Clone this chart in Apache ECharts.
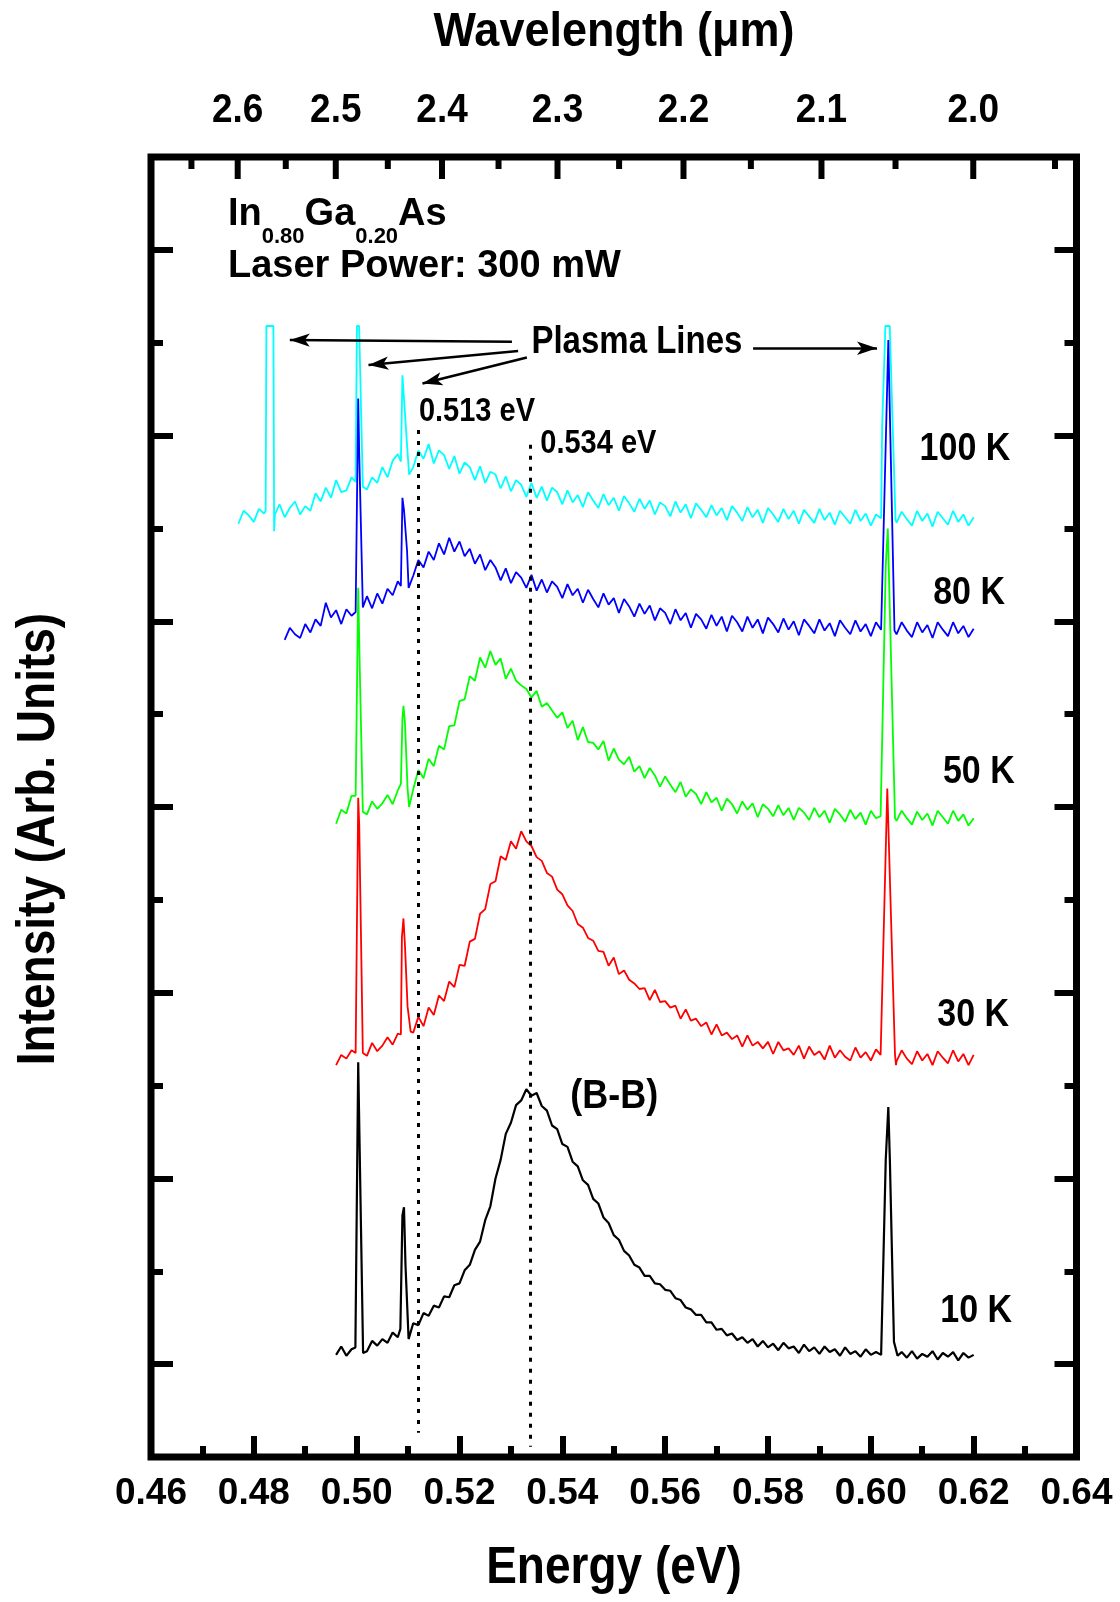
<!DOCTYPE html>
<html>
<head>
<meta charset="utf-8">
<script src="https://cdn.jsdelivr.net/npm/echarts@6/dist/echarts.min.js"></script>
<style>
html,body{margin:0;padding:0;background:#fff;}
#chart{width:1120px;height:1602px;}
</style>
</head>
<body>
<div id="chart"></div>
<script>
// ---------------- DATA ----------------
const HC = 1.23984; // eV·µm, wavelength = HC / energy
const energyMin = 0.46, energyMax = 0.64, energyStep = 0.02;
const intensityMin = 0, intensityMax = 14, intensityStep = 2;
const wavelengthMajor = [2.6, 2.5, 2.4, 2.3, 2.2, 2.1, 2.0];
const wavelengthMinor = [2.65, 2.55, 2.45, 2.35, 2.25, 2.15, 2.05, 1.95];

const gridStep = 0.001;   // sampling step of the spectra (eV)

// 100 K (cyan) from 0.477 eV
const start100K = 0.477;
const int100K = [
  10.05, 10.19, 10.14,
  10.07, 10.21, 10.16, null, null, 10.26, 10.12, 10.22, 10.29, 10.15,
  10.24, 10.19, 10.38, 10.29, 10.44, 10.33, 10.52, 10.39, 10.41, 10.55,
  null, null, 10.42, 10.55, 10.49, 10.66, 10.55, 10.73, 10.80, null,
  null, 10.66, 10.84, 10.75, 10.91, 10.70, 10.84, 10.79, 10.64, 10.78,
  10.59, 10.71, 10.66, 10.52, 10.67, 10.49, 10.61, 10.58, 10.43, 10.56,
  10.40, 10.52, 10.47, 10.34, 10.49, 10.33, 10.45, 10.30, 10.44, 10.39,
  10.26, 10.41, 10.28, 10.36, 10.23, 10.39, 10.30, 10.22, 10.37, 10.25,
  10.33, 10.19, 10.35, 10.27, 10.18, 10.32, 10.21, 10.30, 10.15, 10.28,
  10.24, 10.13, 10.29, 10.17, 10.26, 10.11, 10.27, 10.20, 10.12, 10.25,
  10.14, 10.22, 10.09, 10.24, 10.17, 10.08, 10.23, 10.12, 10.20, 10.06,
  10.22, 10.15, 10.07, 10.21, 10.10, 10.19, 10.05, 10.20, 10.13, 10.06,
  10.21, 10.09, 10.17, 10.04, 10.19, 10.12, 10.05, 10.20, 10.08, 10.16,
  10.03, 10.15, null, null, null, 10.06, 10.18, 10.10, 10.03, 10.19,
  10.08, 10.16, 10.02, 10.18, 10.11, 10.04, 10.19, 10.07, 10.15, 10.03, 10.12
];
const peaks100K = [
  [0.4823, 10.19], [0.48244, 12.18], [0.48381, 12.18], [0.48395, 9.97], [0.4841, 10.15],
  [0.4998, 10.50], [0.50005, 12.18], [0.50048, 12.18], [0.5012, 10.45],
  [0.5086, 10.72], [0.5089, 11.65], [0.5092, 11.40], [0.5098, 10.90], [0.5102, 10.58],
  [0.6020, 10.11], [0.6022, 11.10], [0.60283, 12.18], [0.60368, 12.18], [0.6042, 11.20], [0.6048, 10.10]
];

// 80 K (blue) from 0.486 eV
const start80K = 0.486;
const int80K = [
  8.80, 8.93, 8.86, 8.82,
  8.97, 8.88, 9.02, 8.95, 9.20, 9.04, 9.12, 8.97, 9.13, 9.06,
  null, null, 9.27, 9.14, 9.30, 9.19, 9.35, 9.28, 9.43, null,
  null, 9.49, 9.66, 9.58, 9.75, 9.66, 9.84, 9.72, 9.90, 9.75,
  9.86, 9.70, 9.78, 9.62, 9.72, 9.55, 9.66, 9.58, 9.44, 9.57,
  9.41, 9.53, 9.47, 9.36, 9.50, 9.33, 9.45, 9.31, 9.43, 9.37,
  9.25, 9.40, 9.28, 9.35, 9.20, 9.34, 9.24, 9.15, 9.30, 9.18,
  9.25, 9.09, 9.24, 9.16, 9.05, 9.19, 9.08, 9.17, 9.01, 9.14,
  9.09, 8.97, 9.13, 9.01, 9.09, 8.93, 9.08, 9.02, 8.92, 9.07,
  8.95, 9.05, 8.89, 9.06, 8.99, 8.89, 9.05, 8.93, 9.02, 8.87,
  9.04, 8.97, 8.88, 9.03, 8.91, 9.00, 8.85, 9.02, 8.95, 8.87,
  9.02, 8.90, 8.98, 8.84, 9.01, 8.93, 8.86, 9.01, 8.89, 8.97,
  8.84, 8.99, 8.91, null, null, 8.86, 8.99, 8.90, 8.83, 8.99,
  8.88, 8.96, 8.82, 8.99, 8.91, 8.84, 8.99, 8.87, 8.95, 8.83, 8.92
];
const peaks80K = [
  [0.4998, 9.10], [0.5003, 11.40], [0.5005, 10.80], [0.5012, 9.15],
  [0.5086, 9.38], [0.5089, 10.33], [0.5092, 10.20], [0.5098, 9.76], [0.5101, 9.36],
  [0.6021, 8.92], [0.6034, 12.03], [0.6046, 8.90]
];

// 50 K (green) from 0.496 eV
const start50K = 0.496;
const int50K = [
  6.82, 6.97, 6.93, 7.12,
  null, null, 6.92, 7.06, 6.98, 7.04, 7.13, 7.03, 7.18, null,
  null, 7.19, 7.40, 7.31, 7.52, 7.44, 7.66, 7.62, 7.87, 7.88,
  8.14, 8.16, 8.41, 8.36, 8.61, 8.50, 8.68, 8.53, 8.60, 8.38,
  8.49, 8.36, 8.31, 8.27, 8.18, 8.25, 8.08, 8.12, 8.04, 7.96,
  8.02, 7.85, 7.93, 7.72, 7.86, 7.70, 7.69, 7.62, 7.71, 7.50,
  7.63, 7.51, 7.46, 7.54, 7.38, 7.44, 7.31, 7.42, 7.34, 7.22,
  7.33, 7.24, 7.16, 7.27, 7.11, 7.19, 7.14, 7.03, 7.16, 7.05,
  7.10, 6.96, 7.09, 7.03, 6.93, 7.06, 6.97, 7.04, 6.89, 7.03,
  6.98, 6.90, 7.02, 6.91, 6.99, 6.86, 6.99, 6.94, 6.86, 6.99,
  6.89, 6.96, 6.83, 6.98, 6.92, 6.84, 6.97, 6.87, 6.94, 6.81,
  6.96, 6.88, null, null, null, 6.85, 6.96, 6.88, 6.81, 6.95,
  6.86, 6.93, 6.80, 6.96, 6.89, 6.82, 6.96, 6.85, 6.92, 6.80, 6.88
];
const peaks50K = [
  [0.4998, 7.12], [0.5003, 9.36], [0.5006, 8.50], [0.5012, 6.95],
  [0.5086, 7.25], [0.5089, 7.95], [0.5091, 8.09], [0.5094, 7.90], [0.5099, 7.20], [0.5102, 7.00],
  [0.6019, 6.90], [0.6029, 9.60], [0.6033, 10.00], [0.6047, 6.88]
];

// 30 K (red) from 0.496 eV
const start30K = 0.496;
const int30K = [
  4.22, 4.33, 4.29, 4.38,
  null, null, 4.32, 4.46, 4.37, 4.43, 4.52, 4.44, 4.56, null,
  null, 4.57, 4.74, 4.64, 4.84, 4.76, 4.97, 4.91, 5.12, 5.06,
  5.30, 5.29, 5.55, 5.58, 5.85, 5.90, 6.17, 6.20, 6.47, 6.43,
  6.63, 6.55, 6.74, 6.63, 6.58, 6.46, 6.42, 6.29, 6.25, 6.11,
  6.06, 5.94, 5.88, 5.74, 5.70, 5.59, 5.56, 5.45, 5.44, 5.29,
  5.38, 5.20, 5.24, 5.14, 5.10, 5.04, 5.05, 4.92, 5.03, 4.90,
  4.91, 4.84, 4.86, 4.72, 4.82, 4.70, 4.72, 4.64, 4.68, 4.55,
  4.66, 4.54, 4.57, 4.50, 4.54, 4.42, 4.54, 4.43, 4.47, 4.40,
  4.47, 4.34, 4.47, 4.38, 4.40, 4.33, 4.43, 4.29, 4.42, 4.33,
  4.37, 4.28, 4.43, 4.30, 4.38, 4.31, 4.27, 4.41, 4.30, 4.36,
  4.27, 4.39, null, null, null, 4.26, 4.38, 4.29, 4.23, 4.37,
  4.27, 4.34, 4.22, 4.37, 4.30, 4.24, 4.38, 4.26, 4.34, 4.22, 4.33
];
const peaks30K = [
  [0.4998, 4.35], [0.5003, 7.10], [0.5005, 6.80], [0.5012, 4.35],
  [0.5086, 4.55], [0.5088, 5.60], [0.5091, 5.80], [0.5094, 5.50], [0.5099, 4.85], [0.5105, 4.58],
  [0.6019, 4.33], [0.6032, 7.20], [0.6047, 4.33], [0.6049, 4.22]
];

// 10 K (black) from 0.496 eV
const start10K = 0.496;
const int10K = [
  1.10, 1.19, 1.09, 1.16,
  null, null, 1.14, 1.25, 1.20, 1.27, 1.23, 1.34, 1.29, null,
  null, 1.44, 1.42, 1.55, 1.52, 1.63, 1.61, 1.73, 1.72, 1.85,
  1.87, 2.01, 2.07, 2.23, 2.32, 2.55, 2.70, 3.00, 3.20, 3.48,
  3.60, 3.79, 3.84, 3.96, 3.89, 3.92, 3.78, 3.73, 3.57, 3.53,
  3.37, 3.34, 3.18, 3.13, 2.98, 2.93, 2.78, 2.73, 2.58, 2.52,
  2.39, 2.34, 2.22, 2.17, 2.07, 2.04, 1.95, 1.95, 1.87, 1.86,
  1.80, 1.79, 1.71, 1.69, 1.61, 1.59, 1.53, 1.53, 1.45, 1.45,
  1.37, 1.38, 1.31, 1.33, 1.26, 1.29, 1.23, 1.27, 1.19, 1.25,
  1.18, 1.22, 1.15, 1.23, 1.17, 1.19, 1.12, 1.21, 1.14, 1.18,
  1.11, 1.19, 1.13, 1.16, 1.09, 1.18, 1.11, 1.14, 1.08, 1.16,
  1.10, 1.13, 1.10, null, null, null, 1.13, 1.07, 1.14, 1.06,
  1.11, 1.08, 1.14, 1.05, 1.12, 1.08, 1.13, 1.04, 1.12, 1.07, 1.10
];
const peaks10K = [
  [0.49975, 1.18], [0.5003, 4.25], [0.50045, 3.75], [0.50125, 1.12],
  [0.5085, 1.38], [0.5089, 2.60], [0.5092, 2.69], [0.5095, 2.06], [0.5101, 1.27],
  [0.6021, 1.11], [0.6029, 3.20], [0.6034, 3.77], [0.6037, 3.20], [0.6045, 1.24], [0.6052, 1.09]
];

// dotted reference lines (drawn position, top, bottom)
const refLineE = [0.5119, 0.5337];
const refLineTop = [11.06, 10.90];
const refLineBottom = [0.26, 0.11];

// annotation texts
const noteText = ['Plasma Lines', '0.513 eV', '0.534 eV', '100 K', '80 K', '50 K', '30 K', '10 K', '(B-B)'];
const noteE    = [0.5545, 0.5234, 0.5470, 0.6183, 0.6191, 0.6210, 0.6199, 0.6205, 0.5501];
const noteI    = [11.997, 11.259, 10.914, 10.855, 9.304, 7.377, 4.760, 1.572, 3.877];
const noteSize = [33, 29, 29, 34, 34, 34, 34, 34, 36];

// arrows from "Plasma Lines" (tail -> head)
const arrowTail = [[0.5302, 12.01], [0.5314, 11.91], [0.5331, 11.84], [0.5771, 11.94]];
const arrowHead = [[0.4870, 12.03], [0.5023, 11.76], [0.5128, 11.56], [0.6012, 11.94]];

// ---------------- BUILD ----------------
const FONT = '"Liberation Sans", Arial, Helvetica, sans-serif';
function buildSpectrum(start, values, peaks) {
  const pts = [];
  values.forEach((v, i) => {
    if (v !== null) pts.push([+(start + i * gridStep).toFixed(4), v]);
  });
  peaks.forEach(p => pts.push(p));
  pts.sort((a, b) => a[0] - b[0]);
  return pts;
}
function spectrumSeries(name, color, width, data, extra) {
  return Object.assign({
    name: name, type: 'line', data: data, showSymbol: false, symbol: 'none',
    lineStyle: { color: color, width: width }, itemStyle: { color: color },
    silent: true, animation: false, z: 3
  }, extra || {});
}
function textStyle(text, font, align, vAlign) {
  return { text: text, font: font, fill: '#000',
    align: align, verticalAlign: vAlign, textAlign: align, textVerticalAlign: vAlign };
}

const chart = echarts.init(document.getElementById('chart'), null, { renderer: 'canvas' });

const wlTicks = wavelengthMajor.map(w => [w, 1]).concat(wavelengthMinor.map(w => [w, 0]));

const option = {
  backgroundColor: '#fff',
  animation: false,
  grid: {
    left: 151, right: 43.5, top: 157, bottom: 145,
    show: true, borderColor: '#000', borderWidth: 7, backgroundColor: 'transparent',
    containLabel: false, outerBoundsMode: 'none'
  },
  xAxis: {
    type: 'value', min: energyMin, max: energyMax, interval: energyStep,
    axisLine: { show: false },
    splitLine: { show: false },
    axisTick: { show: true, inside: true, length: 21, lineStyle: { color: '#000', width: 6 } },
    minorTick: { show: true, splitNumber: 2, length: 11, lineStyle: { color: '#000', width: 6 } },
    minorSplitLine: { show: false },
    axisLabel: {
      show: true, margin: 18, color: '#000', fontSize: 37, fontWeight: 'bold', fontFamily: FONT,
      formatter: v => v.toFixed(2)
    }
  },
  yAxis: [
    {
      type: 'value', position: 'left', min: intensityMin, max: intensityMax, interval: intensityStep,
      axisLine: { show: false }, splitLine: { show: false }, axisLabel: { show: false },
      axisTick: { show: true, inside: true, length: 12, lineStyle: { color: '#000', width: 6 } },
      minorTick: { show: true, splitNumber: 2, length: 22, lineStyle: { color: '#000', width: 6 } },
      minorSplitLine: { show: false }
    },
    {
      type: 'value', position: 'right', min: intensityMin, max: intensityMax, interval: intensityStep,
      axisLine: { show: false }, splitLine: { show: false }, axisLabel: { show: false },
      axisTick: { show: true, inside: true, length: 12, lineStyle: { color: '#000', width: 6 } },
      minorTick: { show: true, splitNumber: 2, length: 22, lineStyle: { color: '#000', width: 6 } },
      minorSplitLine: { show: false }
    }
  ],
  graphic: [
    { type: 'text', x: 614, y: 33, scaleY: 1.08, silent: true,
      style: textStyle('Wavelength (μm)', 'bold 45px ' + FONT, 'center', 'middle') },
    { type: 'text', x: 614, y: 1569, scaleY: 1.12, silent: true,
      style: textStyle('Energy (eV)', 'bold 46px ' + FONT, 'center', 'middle') },
    { type: 'text', x: 39, y: 839, rotation: Math.PI / 2, scaleY: 1.15, silent: true,
      style: textStyle('Intensity (Arb. Units)', 'bold 46px ' + FONT, 'center', 'middle') },
    { type: 'text', x: 228, y: 196, silent: true,
      style: {
        text: '{m|In}{s|0.80}{m|Ga}{s|0.20}{m|As}',
        align: 'left', verticalAlign: 'top', textAlign: 'left', textVerticalAlign: 'top',
        rich: {
          m: { font: 'bold 38px ' + FONT, fill: '#000', color: '#000', verticalAlign: 'top' },
          s: { font: 'bold 22px ' + FONT, fill: '#000', color: '#000', verticalAlign: 'top', padding: [30, 0, 0, 0] }
        }
      } },
    { type: 'text', x: 228, y: 267, silent: true,
      style: textStyle('Laser Power: 300 mW', 'bold 38px ' + FONT, 'left', 'middle') }
  ],
  series: [
    spectrumSeries('100 K', '#00FFFF', 1.8, buildSpectrum(start100K, int100K, peaks100K), {
      markLine: {
        silent: true, animation: false, symbol: ['none', 'arrow'], symbolSize: [10, 20],
        label: { show: false },
        lineStyle: { color: '#000', width: 2.5, type: 'solid' },
        data: arrowTail.map((t, i) => [{ coord: t }, { coord: arrowHead[i] }])
      }
    }),
    spectrumSeries('80 K', '#0000FF', 1.8, buildSpectrum(start80K, int80K, peaks80K)),
    spectrumSeries('50 K', '#00FF00', 1.8, buildSpectrum(start50K, int50K, peaks50K)),
    spectrumSeries('30 K', '#FF0000', 1.8, buildSpectrum(start30K, int30K, peaks30K)),
    spectrumSeries('10 K', '#000000', 2.2, buildSpectrum(start10K, int10K, peaks10K), {
      markLine: {
        silent: true, animation: false, symbol: ['none', 'none'],
        label: { show: false },
        lineStyle: { color: '#000', width: 3, type: [4, 7] },
        data: refLineE.map((e, i) => [{ coord: [e, refLineTop[i]] }, { coord: [e, refLineBottom[i]] }])
      }
    }),
    {
      name: 'wavelengthAxis', type: 'custom', coordinateSystem: 'cartesian2d',
      silent: true, animation: false, clip: false, z: 5,
      data: wlTicks,
      renderItem: function (params, api) {
        const lam = wlTicks[params.dataIndex][0];
        const major = wlTicks[params.dataIndex][1] === 1;
        const p = api.coord([HC / lam, intensityMax]);
        const len = major ? 22 : 12;
        const children = [{
          type: 'line', shape: { x1: p[0], y1: p[1], x2: p[0], y2: p[1] + len },
          style: { stroke: '#000', lineWidth: 6 }
        }];
        if (major) {
          children.push({ type: 'text', x: p[0], y: p[1] - 46, scaleY: 1.1,
            style: textStyle(lam.toFixed(1), 'bold 37px ' + FONT, 'center', 'middle') });
        }
        return { type: 'group', children: children };
      }
    },
    {
      name: 'notes', type: 'custom', coordinateSystem: 'cartesian2d',
      silent: true, animation: false, clip: false, z: 6,
      data: noteText.map((t, i) => [noteE[i], noteI[i]]),
      renderItem: function (params, api) {
        const i = params.dataIndex;
        const p = api.coord([api.value(0), api.value(1)]);
        return { type: 'text', x: p[0], y: p[1], scaleY: 1.15,
          style: textStyle(noteText[i], 'bold ' + noteSize[i] + 'px ' + FONT, 'center', 'middle') };
      }
    }
  ]
};
chart.setOption(option);
</script>
</body>
</html>
